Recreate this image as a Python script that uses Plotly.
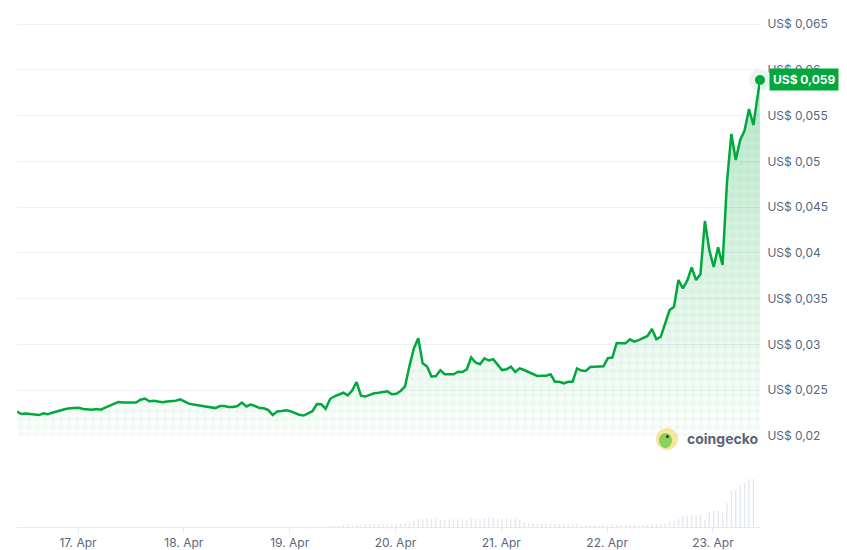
import pandas as pd
import plotly.graph_objects as go

# ---------------- data ----------------
start_time = "2024-04-16 10:10"
last_time = "2024-04-23 10:40"

prices = [
    0.02266, 0.02240, 0.02247, 0.02243, 0.02235, 0.02229, 0.02248, 0.02238, 0.02255, 0.02271,
    0.02281, 0.02296, 0.02303, 0.02304, 0.02308, 0.02295, 0.02291, 0.02287, 0.02295, 0.02288,
    0.02311, 0.02333, 0.02353, 0.02372, 0.02366, 0.02363, 0.02360, 0.02365, 0.02396, 0.02410,
    0.02380, 0.02385, 0.02376, 0.02369, 0.02377, 0.02380, 0.02386, 0.02400, 0.02377, 0.02354,
    0.02344, 0.02337, 0.02328, 0.02320, 0.02311, 0.02305, 0.02328, 0.02328, 0.02317, 0.02317,
    0.02328, 0.02366, 0.02323, 0.02344, 0.02328, 0.02305, 0.02303, 0.02283, 0.02229, 0.02269,
    0.02273, 0.02282, 0.02271, 0.02248, 0.02232, 0.02224, 0.02251, 0.02271, 0.02350, 0.02347,
    0.02298, 0.02404, 0.02434, 0.02455, 0.02473, 0.02444, 0.02497, 0.02590, 0.02440, 0.02431,
    0.02448, 0.02467, 0.02472, 0.02476, 0.02488, 0.02457, 0.02462, 0.02492, 0.02541, 0.02765,
    0.02956, 0.03068, 0.02794, 0.02759, 0.02649, 0.02656, 0.02718, 0.02675, 0.02674, 0.02675,
    0.02702, 0.02699, 0.02729, 0.02858, 0.02803, 0.02785, 0.02848, 0.02825, 0.02839, 0.02778,
    0.02721, 0.02729, 0.02757, 0.02699, 0.02739, 0.02721, 0.02702, 0.02676, 0.02656, 0.02659,
    0.02659, 0.02674, 0.02593, 0.02593, 0.02576, 0.02593, 0.02593, 0.02738, 0.02715, 0.02710,
    0.02754, 0.02757, 0.02757, 0.02762, 0.02852, 0.02858, 0.03016, 0.03013, 0.03013, 0.03057,
    0.03032, 0.03048, 0.03074, 0.03093, 0.03169, 0.03057, 0.03085, 0.03235, 0.03377, 0.03413,
    0.03705, 0.03614, 0.03697, 0.03843, 0.03705, 0.03770, 0.04349, 0.04032, 0.03847, 0.04062,
    0.03869, 0.04765, 0.05300, 0.05016, 0.05234, 0.05338, 0.05573, 0.05398,
]
last_price = 0.0589
last_label = "US$ 0,059"

volume_start = "2024-04-19 09:10"
volumes = [
    1, 1, 1.3, 2, 2, 2, 2, 2.3,
    3, 3, 3, 3, 3, 3, 3, 3, 3,
    3.3, 4.3, 6,
    8.3, 8.3, 8.3, 8.3, 8.3,
    7.3, 7.3, 7.3, 8.3, 8.3, 7.3, 7.3,
    8.3, 8.3, 8.3, 8.7, 9.3, 9.3,
    8.3, 8.3, 8.3, 8.3, 8.3,
    7, 5, 4,
    3.3, 3.3, 3.3, 3.3, 3.3, 3,
    2.7, 2.7, 2.7, 2.7, 2.7,
    1.7, 1.7, 1.7, 1.7, 1.7, 1.7, 1.7,
    2, 2.3, 2, 2, 2, 2, 2, 2, 2.3,
    3, 3, 3, 3,
    5, 6, 8, 11, 11, 12, 12, 13, 7, 15, 16, 16, 16, 24, 36, 37, 42, 44, 48, 48,
]

price_ticks = [0.02, 0.025, 0.03, 0.035, 0.04, 0.045, 0.05, 0.055, 0.06, 0.065]
price_tick_labels = ["US$ 0,02", "US$ 0,025", "US$ 0,03", "US$ 0,035", "US$ 0,04",
                     "US$ 0,045", "US$ 0,05", "US$ 0,055", "US$ 0,06", "US$ 0,065"]

# ---------------- build ----------------
times = list(pd.date_range(start_time, periods=len(prices), freq="h")) + [pd.Timestamp(last_time)]
all_prices = prices + [last_price]
vol_times = pd.date_range(volume_start, periods=len(volumes), freq="h")

GREEN = "#00a83e"
GRID = "#edf0f4"
TXT = "#58667e"
FONT = "Inter"

fig = go.Figure()

fig.add_trace(go.Bar(
    x=vol_times, y=volumes, xaxis="x", yaxis="y2",
    marker=dict(color="#e3e7ee", line=dict(width=0)),
    width=1100000, hoverinfo="skip", showlegend=False,
))

fig.add_trace(go.Scatter(
    x=times, y=all_prices, mode="lines", line=dict(width=0),
    fill="tozeroy",
    fillgradient=dict(type="vertical", start=0.02, stop=0.059,
                      colorscale=[[0, "rgba(0,168,62,0.02)"], [1, "rgba(0,168,62,0.28)"]]),
    hoverinfo="skip", showlegend=False,
))

fig.add_trace(go.Scatter(
    x=times, y=all_prices, mode="lines", line=dict(width=0),
    fill="tozeroy", fillcolor="rgba(0,0,0,0)",
    fillpattern=dict(shape=".", size=8, solidity=0.2,
                     fgcolor="rgba(0,168,62,0.10)", bgcolor="rgba(0,0,0,0)"),
    hoverinfo="skip", showlegend=False,
))

fig.add_trace(go.Scatter(
    x=times, y=all_prices, mode="lines",
    line=dict(color=GREEN, width=2.5),
    hoverinfo="skip", showlegend=False,
))

fig.add_trace(go.Scatter(
    x=[times[-1]], y=[last_price], mode="markers",
    marker=dict(size=22, color="rgba(0,168,62,0.10)"),
    cliponaxis=False, hoverinfo="skip", showlegend=False,
))
fig.add_trace(go.Scatter(
    x=[times[-1]], y=[last_price], mode="markers",
    marker=dict(size=10, color=GREEN),
    cliponaxis=False, hoverinfo="skip", showlegend=False,
))

# logo
logo_x, logo_y = 0.8748, 0.1719
fig.add_shape(type="circle", xref="paper", yref="paper", xsizemode="pixel", ysizemode="pixel",
              xanchor=logo_x, yanchor=logo_y, x0=-11, x1=11, y0=-11, y1=11,
              fillcolor="#f7e6a0", line=dict(width=0))
fig.add_shape(type="circle", xref="paper", yref="paper", xsizemode="pixel", ysizemode="pixel",
              xanchor=logo_x, yanchor=logo_y, x0=-8, x1=5, y0=-9, y1=6,
              fillcolor="#8bd05a", line=dict(width=0))
fig.add_shape(type="circle", xref="paper", yref="paper", xsizemode="pixel", ysizemode="pixel",
              xanchor=logo_x, yanchor=logo_y, x0=-1, x1=2, y0=1, y1=4,
              fillcolor="#333", line=dict(width=0))
fig.add_annotation(xref="paper", yref="paper", x=0.899, y=logo_y, xanchor="left", yanchor="middle",
                   text="<b>coingecko</b>", showarrow=False,
                   font=dict(family=FONT, size=14, color="#5b6472"))

# last price label
fig.add_annotation(xref="paper", yref="y", x=1.0121, y=last_price, xanchor="left", yanchor="middle",
                   text="<b>" + last_label + "</b>", showarrow=False,
                   bgcolor=GREEN, borderpad=3,
                   font=dict(family=FONT, size=12, color="white"))

fig.update_layout(
    width=847, height=550,
    margin=dict(l=17, r=87, t=15, b=23, autoexpand=False),
    paper_bgcolor="white", plot_bgcolor="white",
    font=dict(family=FONT, size=12, color=TXT),
    showlegend=False,
    hovermode=False,
    xaxis=dict(
        type="date", anchor="y2", automargin=False,
        range=[start_time, last_time],
        tick0="2024-04-17", dtick=86400000, tickformat="%-d. %b",
        ticks="outside", ticklen=5, tickcolor="#e6e9ee",
        showline=True, linecolor="#e6e9ee", linewidth=1,
        showgrid=False, zeroline=False,
        tickfont=dict(family=FONT, size=12, color=TXT),
    ),
    yaxis=dict(
        domain=[0.1777, 1], range=[0.02, 0.066], anchor="x", side="right", automargin=False,
        tickvals=price_ticks, ticktext=price_tick_labels,
        showgrid=True, gridcolor=GRID, gridwidth=1, zeroline=False, showline=False,
        ticks="outside", ticklen=4, tickcolor="rgba(0,0,0,0)",
        tickfont=dict(family=FONT, size=12, color=TXT),
    ),
    yaxis2=dict(
        domain=[0, 0.1777], range=[0, 91], anchor="x", automargin=False,
        visible=False, showgrid=False, zeroline=False,
    ),
)

fig.write_html("out.html", config={"displayModeBar": False, "staticPlot": True})

# remove the default page margin so the figure sits at the window's top-left corner
with open("out.html", "r", encoding="utf-8") as f:
    html = f.read()
html = html.replace("<head>", "<head><style>html,body{margin:0;padding:0;overflow:hidden;}</style>", 1)
with open("out.html", "w", encoding="utf-8") as f:
    f.write(html)
